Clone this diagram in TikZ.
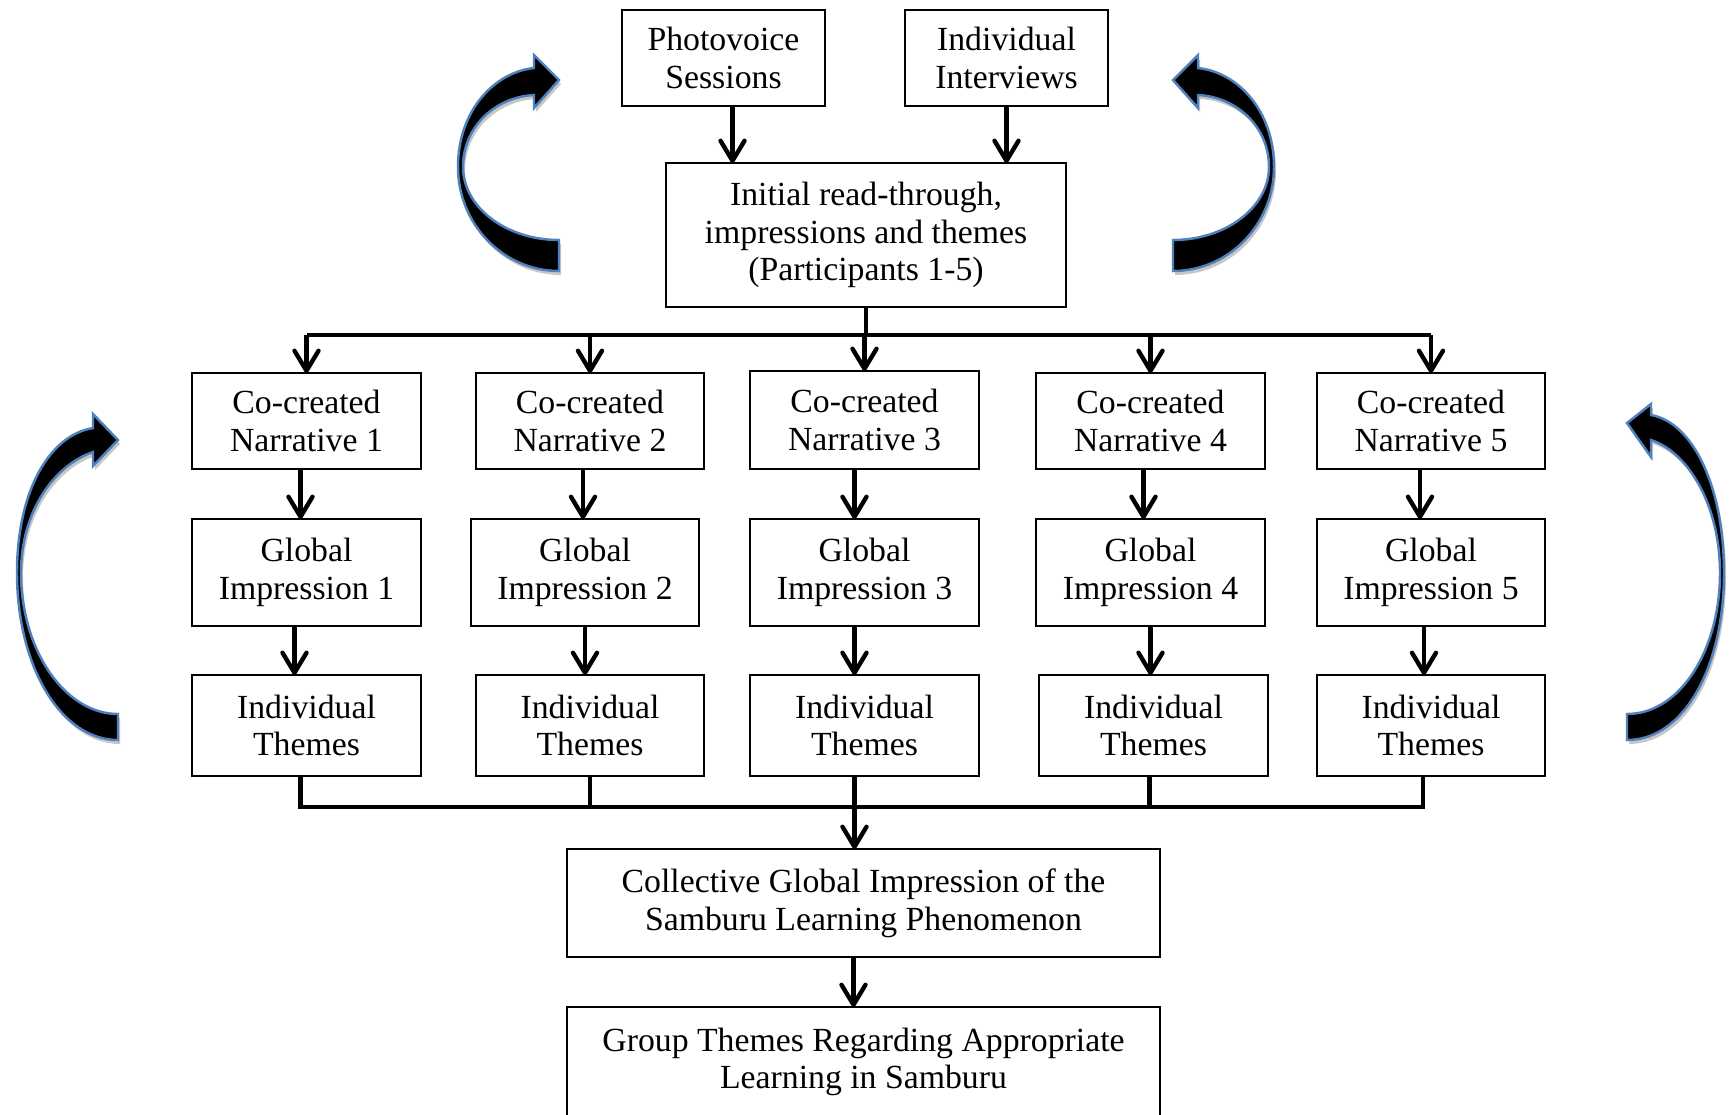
\documentclass[tikz,border=0pt]{standalone}
\usepackage{fontspec}
\setmainfont{Liberation Serif}
\usetikzlibrary{arrows.meta}
\definecolor{arrblue}{RGB}{79,129,189}
\begin{document}
\begin{tikzpicture}[x=0.01cm,y=-0.01cm,
  box/.style={draw, line width=0.6pt, inner sep=0pt, outer sep=0pt, align=center,
    font=\fontsize{9.6}{10.7}\selectfont},
  cell/.style={box, minimum width=2.28cm},
  conn/.style={line width=1.35pt},
  arr/.style={line width=1.25pt, -{Straight Barb[length=2.0mm,width=2.4mm,round]}},
  bigarrow/.style={fill=black, draw=arrblue, line width=0.7pt, line join=miter,
    preaction={fill=black!22, draw=none, transform canvas={shift={(2,4)}}}}
]
\useasboundingbox (0,0) rectangle (1735,1114);

% top
\node[box, minimum width=2.03cm, minimum height=0.96cm] (pv) at (723.5,58) {Photovoice\\Sessions};
\node[box, minimum width=2.03cm, minimum height=0.96cm] (iv) at (1006.5,58) {Individual\\Interviews};
\node[box, minimum width=4.00cm, minimum height=1.44cm] (ini) at (866,235) {Initial read-through,\\impressions and themes\\(Participants 1-5)};

% row 1
\node[cell, minimum height=0.96cm] (n1) at (306.5,421) {Co-created\\Narrative 1};
\node[cell, minimum height=0.96cm] (n2) at (590,421) {Co-created\\Narrative 2};
\node[cell, minimum height=0.98cm] (n3) at (864.5,420) {Co-created\\Narrative 3};
\node[cell, minimum height=0.96cm] (n4) at (1150.5,421) {Co-created\\Narrative 4};
\node[cell, minimum height=0.96cm] (n5) at (1431,421) {Co-created\\Narrative 5};

% row 2
\node[cell, minimum height=1.07cm] (g1) at (306.5,572.5) {Global\\Impression 1};
\node[cell, minimum height=1.07cm] (g2) at (585,572.5) {Global\\Impression 2};
\node[cell, minimum height=1.07cm] (g3) at (864.5,572.5) {Global\\Impression 3};
\node[cell, minimum height=1.07cm] (g4) at (1150.5,572.5) {Global\\Impression 4};
\node[cell, minimum height=1.07cm] (g5) at (1431,572.5) {Global\\Impression 5};

% row 3
\node[cell, minimum height=1.01cm] (t1) at (306.5,725.5) {Individual\\Themes};
\node[cell, minimum height=1.01cm] (t2) at (590,725.5) {Individual\\Themes};
\node[cell, minimum height=1.01cm] (t3) at (864.5,725.5) {Individual\\Themes};
\node[cell, minimum height=1.01cm] (t4) at (1153.5,725.5) {Individual\\Themes};
\node[cell, minimum height=1.01cm] (t5) at (1431,725.5) {Individual\\Themes};

% bottom
\node[box, minimum width=5.93cm, minimum height=1.08cm] (col) at (863.5,903) {Collective Global Impression of the\\Samburu Learning Phenomenon};
\node[box, minimum width=5.93cm, minimum height=1.10cm] (grp) at (863.5,1062) {Group Themes Regarding Appropriate\\Learning in Samburu};

% connectors top
\draw[arr] ([xshift=0.09cm]pv.south) -- ([xshift=0.09cm]pv.south |- ini.north);
\draw[arr] (iv.south) -- (iv.south |- ini.north);

\coordinate (br) at (866,335);
\draw[conn] (ini.south) -- (ini.south |- br);
\draw[conn] (n1.north |- br) -- (n5.north |- br);
\foreach \n in {n1,n2,n3,n4,n5} \draw[arr] (\n.north |- br) -- (\n.north);

% vertical arrows
\draw[arr] ([xshift=-0.06cm]n1.south) -- ([xshift=-0.06cm]n1.south |- g1.north);
\draw[arr] ([xshift=-0.07cm]n2.south) -- ([xshift=-0.07cm]n2.south |- g2.north);
\draw[arr] ([xshift=-0.10cm]n3.south) -- ([xshift=-0.10cm]n3.south |- g3.north);
\draw[arr] ([xshift=-0.07cm]n4.south) -- ([xshift=-0.07cm]n4.south |- g4.north);
\draw[arr] ([xshift=-0.11cm]n5.south) -- ([xshift=-0.11cm]n5.south |- g5.north);

\draw[arr] ([xshift=-0.12cm]g1.south) -- ([xshift=-0.12cm]g1.south |- t1.north);
\draw[arr] (g2.south) -- (g2.south |- t2.north);
\draw[arr] ([xshift=-0.10cm]g3.south) -- ([xshift=-0.10cm]g3.south |- t3.north);
\draw[arr] (g4.south) -- (g4.south |- t4.north);
\draw[arr] ([xshift=-0.07cm]g5.south) -- ([xshift=-0.07cm]g5.south |- t5.north);

% bottom bar
\coordinate (bb) at (860,807);
\draw[conn] ([xshift=-0.06cm]t1.south) -- ([xshift=-0.06cm]t1.south |- bb) -- ([xshift=-0.08cm]t5.south |- bb) -- ([xshift=-0.08cm]t5.south);
\draw[conn] (t2.south) -- (t2.south |- bb);
\draw[conn] ([xshift=-0.04cm]t4.south) -- ([xshift=-0.04cm]t4.south |- bb);
\draw[arr] ([xshift=-0.10cm]t3.south) -- ([xshift=-0.10cm]t3.south |- col.north);
\draw[arr] ([xshift=-0.10cm]col.south) -- ([xshift=-0.10cm]col.south |- grp.north);

% curved block arrows
\path[bigarrow] (559,271) .. controls (503,271) and (458,224) .. (458,167)
  .. controls (458,110) and (495,72) .. (534,68) -- (534,55) -- (559,80) -- (534,108) -- (534,95)
  .. controls (495,97) and (463,127) .. (463,167)
  .. controls (463,207) and (506,240) .. (559,240) -- cycle;
\begin{scope}[shift={(1732,0)}, xscale=-1]
\path[bigarrow] (559,271) .. controls (503,271) and (458,224) .. (458,167)
  .. controls (458,110) and (495,72) .. (534,68) -- (534,55) -- (559,80) -- (534,108) -- (534,95)
  .. controls (495,97) and (463,127) .. (463,167)
  .. controls (463,207) and (506,240) .. (559,240) -- cycle;
\end{scope}

\path[bigarrow] (118,740) .. controls (60,740) and (17,665) .. (17,573)
  .. controls (17,490) and (50,435) .. (93,428) -- (93,414) -- (118,440) -- (93,466) -- (93,452)
  .. controls (55,465) and (21,510) .. (21,573)
  .. controls (21,650) and (65,714) .. (118,714) -- cycle;

\path[bigarrow] (1627,740) .. controls (1685,740) and (1724,665) .. (1724,573)
  .. controls (1724,485) and (1692,422) .. (1651,415) -- (1651,404) -- (1627,423) -- (1651,457) -- (1651,440)
  .. controls (1688,452) and (1720,505) .. (1720,573)
  .. controls (1720,650) and (1680,714) .. (1627,714) -- cycle;
\end{tikzpicture}
\end{document}
